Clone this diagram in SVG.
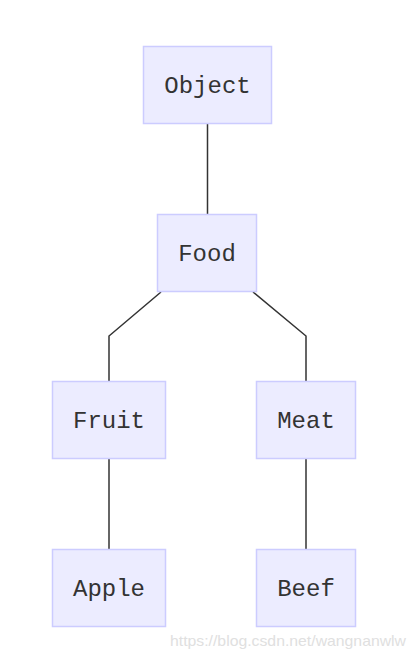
<svg xmlns="http://www.w3.org/2000/svg" width="417" height="659" viewBox="0 0 417 659">
<style>
.node rect{fill:#ECECFF;stroke:#CCCCFF;stroke-width:1.5}
.node text{font-family:"Liberation Mono","Courier New",monospace;font-size:24px;fill:#333;text-anchor:middle;dominant-baseline:central}
.edges path{fill:none;stroke:#333;stroke-width:1.5}
.wm{font-family:"Liberation Sans",Arial,sans-serif;font-size:15px;fill:#E0E0E0}
</style>
<rect width="417" height="659" fill="#fff"/>
<g class="edges">
<path d="M207.5,124 V214"/>
<path d="M161,292 L109,336 V381"/>
<path d="M253,292 L306,336 V381"/>
<path d="M109,459 V549"/>
<path d="M306,459 V549"/>
</g>
<g id="Object" class="node"><rect x="143.5" y="46.5" width="128" height="77"/><text x="207.5" y="86">Object</text></g>
<g id="Food" class="node"><rect x="157.5" y="214.5" width="99" height="77"/><text x="207" y="254">Food</text></g>
<g id="Fruit" class="node"><rect x="52.5" y="381.5" width="113" height="77"/><text x="109" y="421">Fruit</text></g>
<g id="Meat" class="node"><rect x="256.5" y="381.5" width="99" height="77"/><text x="306" y="421">Meat</text></g>
<g id="Apple" class="node"><rect x="52.5" y="549.5" width="113" height="77"/><text x="109" y="589">Apple</text></g>
<g id="Beef" class="node"><rect x="256.5" y="549.5" width="99" height="77"/><text x="306" y="589">Beef</text></g>
<text class="wm" x="170" y="646" textLength="236" lengthAdjust="spacingAndGlyphs">https://blog.csdn.net/wangnanwlw</text>
</svg>
